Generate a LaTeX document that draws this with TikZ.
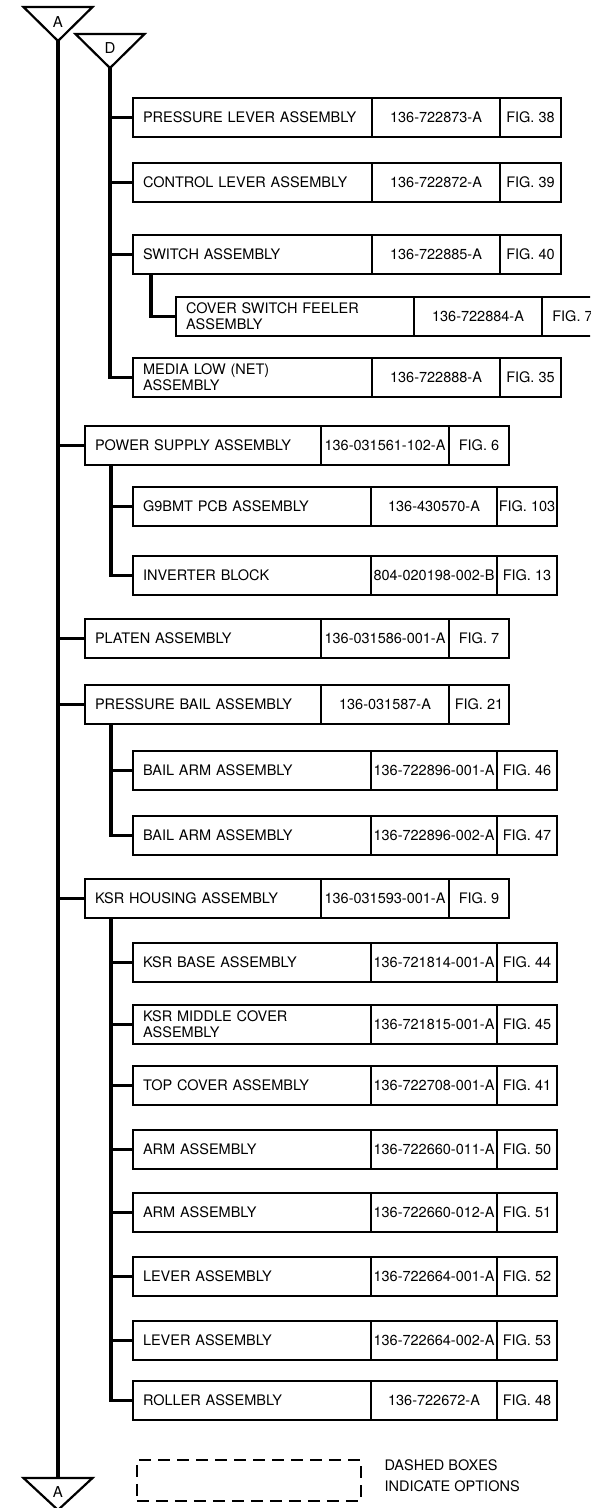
\documentclass[tikz,border=0pt]{standalone}
\usepackage{fontspec}
\setmainfont{TeX Gyre Heros}
\usetikzlibrary{positioning}

\tikzset{
  cellbox/.style={draw,line width=1.8pt,minimum height=39pt,inner sep=0pt,outer sep=0pt,
    font=\fontsize{14.5}{16}\selectfont},
  namecell/.style={cellbox,anchor=north west,inner xsep=10pt,text width=#1pt,align=left},
  numcell/.style={cellbox,minimum width=#1pt},
  trunk/.style={line width=3.2pt},
  tri/.style={line width=2.2pt,line join=miter},
  tag/.style={font=\fontsize{15}{16}\selectfont}
}

\begin{document}
\begin{tikzpicture}[x=1pt,y=-1pt]
\useasboundingbox (0,0) rectangle (590,1508);
\clip (0,0) rectangle (590,1508);

% flags A and D
\coordinate (Atip) at (58,41);
\coordinate (Dtip) at (110,68);
\coordinate (Abase) at (58,1478);
\draw[tri] (23.5,7) -- (92.5,7) -- (Atip) -- cycle;
\node[tag] (Atop) at (58,22) {A};
\draw[tri] (75.5,34) -- (144.5,34) -- (Dtip) -- cycle;
\node[tag] (Dtop) at (110,48) {D};
\draw[tri] (23.5,1478) -- (92.5,1478) -- (58,1510) -- cycle;
\node[tag] (Abot) at (58,1492) {A};

% D branch
\node[namecell=219] (pl) at (133,98) {PRESSURE LEVER ASSEMBLY};
\node[numcell=128,right=0pt of pl] (plno) {136-722873-A};
\node[numcell=61,right=0pt of plno] (plfig) {FIG. 38};
\node[namecell=219] (cl) at (133,163) {CONTROL LEVER ASSEMBLY};
\node[numcell=128,right=0pt of cl] (clno) {136-722872-A};
\node[numcell=61,right=0pt of clno] (clfig) {FIG. 39};
\node[namecell=219] (sw) at (133,235) {SWITCH ASSEMBLY};
\node[numcell=128,right=0pt of sw] (swno) {136-722885-A};
\node[numcell=61,right=0pt of swno] (swfig) {FIG. 40};
\node[namecell=218] (cs) at (176,297) {COVER SWITCH FEELER\\ASSEMBLY};
\node[numcell=128,right=0pt of cs] (csno) {136-722884-A};
\node[numcell=61,right=0pt of csno] (csfig) {FIG. 7};
\node[namecell=219] (ml) at (133,358) {MEDIA LOW (NET)\\ASSEMBLY};
\node[numcell=128,right=0pt of ml] (mlno) {136-722888-A};
\node[numcell=61,right=0pt of mlno] (mlfig) {FIG. 35};

\draw[trunk] (Dtip) |- (ml.west);
\foreach \n in {pl,cl,sw}
  \draw[trunk] (Dtip |- \n.west) -- (\n.west);
\draw[trunk] ([xshift=18pt]sw.south west) |- (cs.west);

% A branch
\node[namecell=216] (ps) at (85,426) {POWER SUPPLY ASSEMBLY};
\node[numcell=128,right=0pt of ps] (psno) {136-031561-102-A};
\node[numcell=60,right=0pt of psno] (psfig) {FIG. 6};
\node[namecell=218] (g9) at (133,487) {G9BMT PCB ASSEMBLY};
\node[numcell=126,right=0pt of g9] (g9no) {136-430570-A};
\node[numcell=60,right=0pt of g9no] (g9fig) {FIG. 103};
\node[namecell=218] (inv) at (133,556) {INVERTER BLOCK};
\node[numcell=126,right=0pt of inv] (invno) {804-020198-002-B};
\node[numcell=60,right=0pt of invno] (invfig) {FIG. 13};

\node[namecell=216] (pt) at (85,619) {PLATEN ASSEMBLY};
\node[numcell=128,right=0pt of pt] (ptno) {136-031586-001-A};
\node[numcell=60,right=0pt of ptno] (ptfig) {FIG. 7};

\node[namecell=216] (pb) at (85,685) {PRESSURE BAIL ASSEMBLY};
\node[numcell=128,right=0pt of pb] (pbno) {136-031587-A};
\node[numcell=60,right=0pt of pbno] (pbfig) {FIG. 21};
\node[namecell=218] (ba1) at (133,751) {BAIL ARM ASSEMBLY};
\node[numcell=126,right=0pt of ba1] (ba1no) {136-722896-001-A};
\node[numcell=60,right=0pt of ba1no] (ba1fig) {FIG. 46};
\node[namecell=218] (ba2) at (133,816) {BAIL ARM ASSEMBLY};
\node[numcell=126,right=0pt of ba2] (ba2no) {136-722896-002-A};
\node[numcell=60,right=0pt of ba2no] (ba2fig) {FIG. 47};

\node[namecell=216] (ksr) at (85,879) {KSR HOUSING ASSEMBLY};
\node[numcell=128,right=0pt of ksr] (ksrno) {136-031593-001-A};
\node[numcell=60,right=0pt of ksrno] (ksrfig) {FIG. 9};
\node[namecell=218] (kb) at (133,943) {KSR BASE ASSEMBLY};
\node[numcell=126,right=0pt of kb] (kbno) {136-721814-001-A};
\node[numcell=60,right=0pt of kbno] (kbfig) {FIG. 44};
\node[namecell=218] (km) at (133,1005) {KSR MIDDLE COVER\\ASSEMBLY};
\node[numcell=126,right=0pt of km] (kmno) {136-721815-001-A};
\node[numcell=60,right=0pt of kmno] (kmfig) {FIG. 45};
\node[namecell=218] (tc) at (133,1066) {TOP COVER ASSEMBLY};
\node[numcell=126,right=0pt of tc] (tcno) {136-722708-001-A};
\node[numcell=60,right=0pt of tcno] (tcfig) {FIG. 41};
\node[namecell=218] (arm1) at (133,1130) {ARM ASSEMBLY};
\node[numcell=126,right=0pt of arm1] (arm1no) {136-722660-011-A};
\node[numcell=60,right=0pt of arm1no] (arm1fig) {FIG. 50};
\node[namecell=218] (arm2) at (133,1193) {ARM ASSEMBLY};
\node[numcell=126,right=0pt of arm2] (arm2no) {136-722660-012-A};
\node[numcell=60,right=0pt of arm2no] (arm2fig) {FIG. 51};
\node[namecell=218] (lv1) at (133,1257) {LEVER ASSEMBLY};
\node[numcell=126,right=0pt of lv1] (lv1no) {136-722664-001-A};
\node[numcell=60,right=0pt of lv1no] (lv1fig) {FIG. 52};
\node[namecell=218] (lv2) at (133,1321) {LEVER ASSEMBLY};
\node[numcell=126,right=0pt of lv2] (lv2no) {136-722664-002-A};
\node[numcell=60,right=0pt of lv2no] (lv2fig) {FIG. 53};
\node[namecell=218] (rl) at (133,1381) {ROLLER ASSEMBLY};
\node[numcell=126,right=0pt of rl] (rlno) {136-722672-A};
\node[numcell=60,right=0pt of rlno] (rlfig) {FIG. 48};

\draw[trunk] (Atip) -- (Abase);
\foreach \n in {ps,pt,pb,ksr}
  \draw[trunk] (Atip |- \n.west) -- (\n.west);

\coordinate (pst) at ([xshift=26pt]ps.south west);
\coordinate (pbt) at ([xshift=26pt]pb.south west);
\coordinate (ksrt) at ([xshift=26pt]ksr.south west);
\draw[trunk] (pst) |- (inv.west);
\draw[trunk] (pst |- g9.west) -- (g9.west);
\draw[trunk] (pbt) |- (ba2.west);
\draw[trunk] (pbt |- ba1.west) -- (ba1.west);
\draw[trunk] (ksrt) |- (rl.west);
\foreach \n in {kb,km,tc,arm1,arm2,lv1,lv2}
  \draw[trunk] (ksrt |- \n.west) -- (\n.west);

% legend
\node[draw,dashed,line width=1.8pt,dash pattern=on 12pt off 7pt,minimum width=224pt,
  minimum height=41pt,inner sep=0pt,anchor=north west] (opt) at (136,1459) {};
\node[anchor=west,align=left,font=\fontsize{14.5}{21}\selectfont] (optnote) at (381,1476)
  {DASHED BOXES\\INDICATE OPTIONS};
\end{tikzpicture}
\end{document}
